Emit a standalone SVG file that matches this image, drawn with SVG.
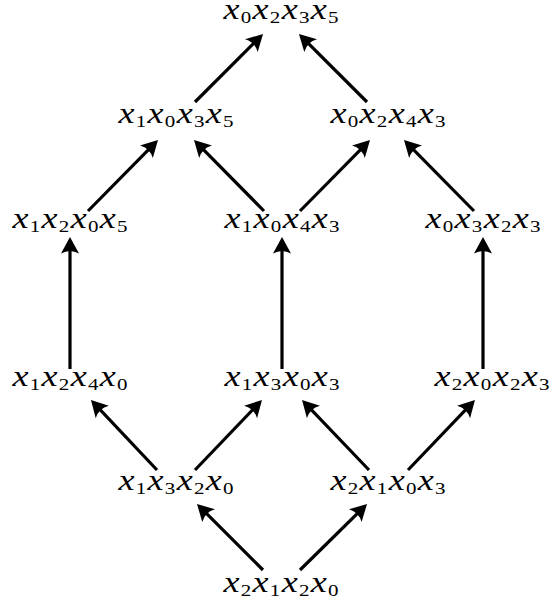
<svg xmlns="http://www.w3.org/2000/svg" width="550" height="604" viewBox="0 0 550 604">
<style>
.lbl{font-family:'Liberation Serif','DejaVu Serif',serif;font-style:italic;font-size:30px;fill:#000;text-anchor:middle}
.s{font-style:normal;font-size:17.5px}
.e{stroke:#000;stroke-width:3.2;fill:none;marker-end:url(#ah)}
</style>
<defs>
<marker id="ah" markerUnits="userSpaceOnUse" viewBox="-14 -10 20 20" markerWidth="20" markerHeight="20" refX="0" refY="0" orient="auto" overflow="visible">
<path d="M4,0 L-12.5,-9 Q-7.5,0 -12.5,9 Z" fill="#000"/>
</marker>
</defs>
<rect width="550" height="604" fill="#fff"/>
<g id="connectors">
<line class="e" x1="195" y1="102" x2="260.2" y2="36.8"/>
<line class="e" x1="367" y1="102" x2="301.8" y2="36.8"/>
<line class="e" x1="88" y1="211" x2="155.2" y2="142.8"/>
<line class="e" x1="264" y1="211" x2="196.8" y2="142.8"/>
<line class="e" x1="300" y1="211" x2="367.2" y2="142.8"/>
<line class="e" x1="474" y1="211" x2="406.8" y2="142.8"/>
<line class="e" x1="70" y1="369" x2="70" y2="241"/>
<line class="e" x1="282" y1="369" x2="282" y2="241"/>
<line class="e" x1="483" y1="369" x2="483" y2="241"/>
<line class="e" x1="157" y1="470" x2="93.7" y2="402.9"/>
<line class="e" x1="195" y1="470" x2="259.2" y2="402.9"/>
<line class="e" x1="369" y1="470" x2="304.8" y2="402.9"/>
<line class="e" x1="408" y1="470" x2="472.2" y2="402.9"/>
<line class="e" x1="263" y1="570" x2="199.8" y2="506.8"/>
<line class="e" x1="300" y1="570" x2="364.2" y2="506.8"/>
</g>
<g id="n_x0x2x3x5" transform="translate(281,19) scale(1.2,1)"><text class="lbl" textLength="96" lengthAdjust="spacing">x<tspan class="s" dy="4">0</tspan><tspan dy="-4">x</tspan><tspan class="s" dy="4">2</tspan><tspan dy="-4">x</tspan><tspan class="s" dy="4">3</tspan><tspan dy="-4">x</tspan><tspan class="s" dy="4">5</tspan></text></g>
<g id="n_x1x0x3x5" transform="translate(176,123) scale(1.2,1)"><text class="lbl" textLength="96" lengthAdjust="spacing">x<tspan class="s" dy="4">1</tspan><tspan dy="-4">x</tspan><tspan class="s" dy="4">0</tspan><tspan dy="-4">x</tspan><tspan class="s" dy="4">3</tspan><tspan dy="-4">x</tspan><tspan class="s" dy="4">5</tspan></text></g>
<g id="n_x0x2x4x3" transform="translate(388,123) scale(1.2,1)"><text class="lbl" textLength="96" lengthAdjust="spacing">x<tspan class="s" dy="4">0</tspan><tspan dy="-4">x</tspan><tspan class="s" dy="4">2</tspan><tspan dy="-4">x</tspan><tspan class="s" dy="4">4</tspan><tspan dy="-4">x</tspan><tspan class="s" dy="4">3</tspan></text></g>
<g id="n_x1x2x0x5" transform="translate(70,228) scale(1.2,1)"><text class="lbl" textLength="96" lengthAdjust="spacing">x<tspan class="s" dy="4">1</tspan><tspan dy="-4">x</tspan><tspan class="s" dy="4">2</tspan><tspan dy="-4">x</tspan><tspan class="s" dy="4">0</tspan><tspan dy="-4">x</tspan><tspan class="s" dy="4">5</tspan></text></g>
<g id="n_x1x0x4x3" transform="translate(282,228) scale(1.2,1)"><text class="lbl" textLength="96" lengthAdjust="spacing">x<tspan class="s" dy="4">1</tspan><tspan dy="-4">x</tspan><tspan class="s" dy="4">0</tspan><tspan dy="-4">x</tspan><tspan class="s" dy="4">4</tspan><tspan dy="-4">x</tspan><tspan class="s" dy="4">3</tspan></text></g>
<g id="n_x0x3x2x3" transform="translate(483,228) scale(1.2,1)"><text class="lbl" textLength="96" lengthAdjust="spacing">x<tspan class="s" dy="4">0</tspan><tspan dy="-4">x</tspan><tspan class="s" dy="4">3</tspan><tspan dy="-4">x</tspan><tspan class="s" dy="4">2</tspan><tspan dy="-4">x</tspan><tspan class="s" dy="4">3</tspan></text></g>
<g id="n_x1x2x4x0" transform="translate(70,386) scale(1.2,1)"><text class="lbl" textLength="96" lengthAdjust="spacing">x<tspan class="s" dy="4">1</tspan><tspan dy="-4">x</tspan><tspan class="s" dy="4">2</tspan><tspan dy="-4">x</tspan><tspan class="s" dy="4">4</tspan><tspan dy="-4">x</tspan><tspan class="s" dy="4">0</tspan></text></g>
<g id="n_x1x3x0x3" transform="translate(282,386) scale(1.2,1)"><text class="lbl" textLength="96" lengthAdjust="spacing">x<tspan class="s" dy="4">1</tspan><tspan dy="-4">x</tspan><tspan class="s" dy="4">3</tspan><tspan dy="-4">x</tspan><tspan class="s" dy="4">0</tspan><tspan dy="-4">x</tspan><tspan class="s" dy="4">3</tspan></text></g>
<g id="n_x2x0x2x3" transform="translate(492,386) scale(1.2,1)"><text class="lbl" textLength="96" lengthAdjust="spacing">x<tspan class="s" dy="4">2</tspan><tspan dy="-4">x</tspan><tspan class="s" dy="4">0</tspan><tspan dy="-4">x</tspan><tspan class="s" dy="4">2</tspan><tspan dy="-4">x</tspan><tspan class="s" dy="4">3</tspan></text></g>
<g id="n_x1x3x2x0" transform="translate(176,490) scale(1.2,1)"><text class="lbl" textLength="96" lengthAdjust="spacing">x<tspan class="s" dy="4">1</tspan><tspan dy="-4">x</tspan><tspan class="s" dy="4">3</tspan><tspan dy="-4">x</tspan><tspan class="s" dy="4">2</tspan><tspan dy="-4">x</tspan><tspan class="s" dy="4">0</tspan></text></g>
<g id="n_x2x1x0x3" transform="translate(388,490) scale(1.2,1)"><text class="lbl" textLength="96" lengthAdjust="spacing">x<tspan class="s" dy="4">2</tspan><tspan dy="-4">x</tspan><tspan class="s" dy="4">1</tspan><tspan dy="-4">x</tspan><tspan class="s" dy="4">0</tspan><tspan dy="-4">x</tspan><tspan class="s" dy="4">3</tspan></text></g>
<g id="n_x2x1x2x0" transform="translate(281,592) scale(1.2,1)"><text class="lbl" textLength="96" lengthAdjust="spacing">x<tspan class="s" dy="4">2</tspan><tspan dy="-4">x</tspan><tspan class="s" dy="4">1</tspan><tspan dy="-4">x</tspan><tspan class="s" dy="4">2</tspan><tspan dy="-4">x</tspan><tspan class="s" dy="4">0</tspan></text></g>
</svg>
